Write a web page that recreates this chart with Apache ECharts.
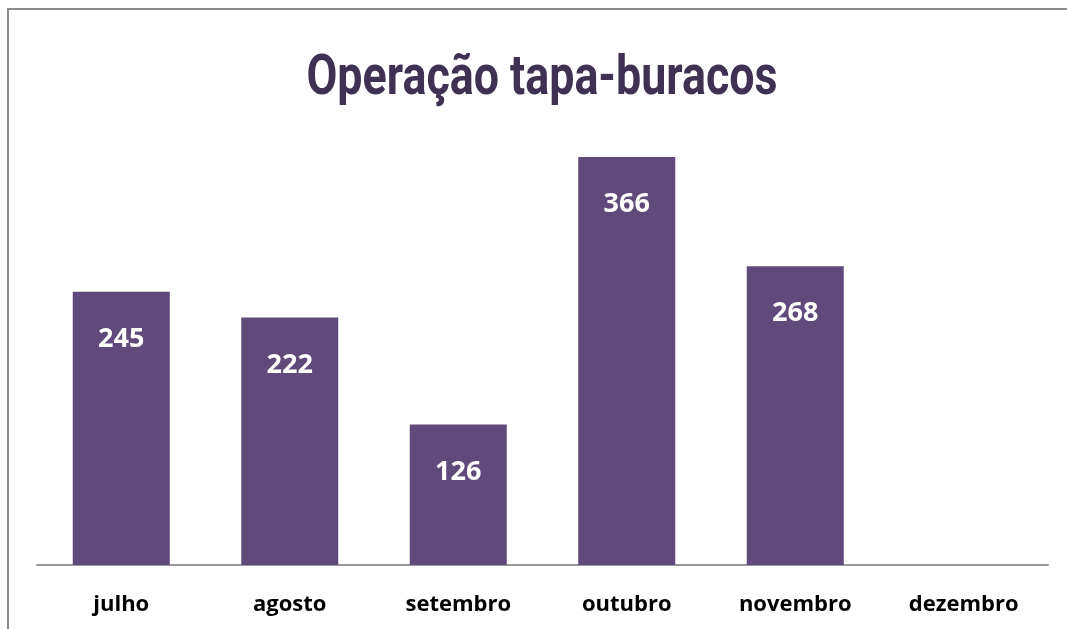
<!DOCTYPE html>
<html><head><meta charset="utf-8">
<script src="https://cdn.jsdelivr.net/npm/echarts@6/dist/echarts.min.js"></script>
<style>html,body{margin:0;padding:0;background:#fff}#c{width:1067px;height:629px}</style>
</head><body><div id="c"></div>
<script>
const categories = ['julho','agosto','setembro','outubro','novembro','dezembro'];
const values = [245, 222, 126, 366, 268, null];
const titleText = 'Operação tapa-buracos';

const titleFont = 'bold 56px Roboto';
const ctx = document.createElement('canvas').getContext('2d');
ctx.font = titleFont;
const titleScale = 471 / ctx.measureText(titleText).width;

const chart = echarts.init(document.getElementById('c'), null, {renderer:'canvas'});
chart.setOption({
  animation: false,
  backgroundColor: '#fff',
  graphic: [
    {type:'line', shape:{x1:7, y1:9, x2:1067, y2:9}, style:{stroke:'#8c8c8c', lineWidth:2}},
    {type:'line', shape:{x1:8, y1:8, x2:8, y2:629}, style:{stroke:'#8c8c8c', lineWidth:2}},
    {type:'text', x:542, y:108, scaleX: titleScale,
      style:{text: titleText, x:0, y:0, font: titleFont, fill:'#3F3151', textAlign:'center', textVerticalAlign:'bottom'}}
  ],
  grid: {left: 37, right: 19, top: 119, bottom: 64},
  xAxis: {
    type: 'category', data: categories,
    axisLine: {lineStyle: {color: '#999', width: 2}},
    axisTick: {show: false},
    axisLabel: {margin: 29, fontFamily: 'Open Sans', fontWeight: 'bold', fontSize: 22, color: '#000'}
  },
  yAxis: {type: 'value', min: 0, max: 400, show: false, splitLine: {show: false}},
  series: [{
    type: 'bar', data: values, barWidth: 97,
    itemStyle: {color: '#604A7B'},
    label: {show: true, position: 'insideTop', distance: 34, color: '#fff',
      fontFamily: 'Open Sans', fontWeight: 'bold', fontSize: 27}
  }]
});
</script></body></html>
